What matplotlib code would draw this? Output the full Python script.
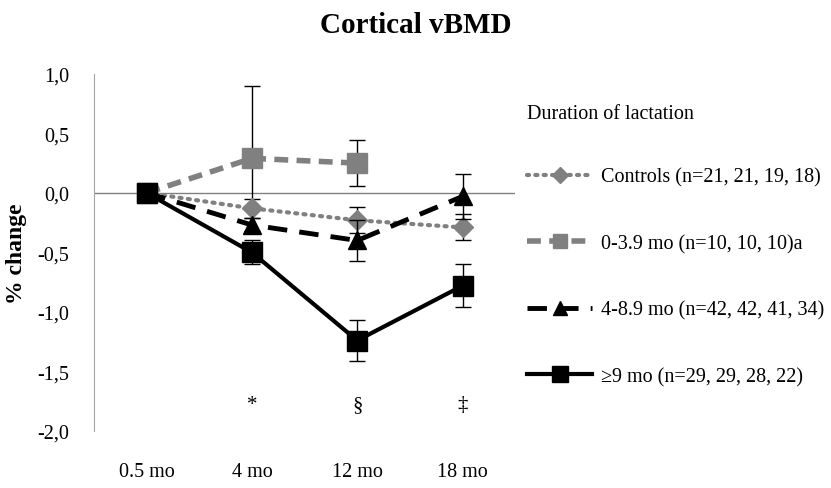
import numpy as np
import matplotlib.pyplot as plt
from matplotlib.lines import Line2D

plt.rcParams['font.family'] = ['Liberation Serif', 'DejaVu Serif']

timepoints = ['0.5 mo', '4 mo', '12 mo', '18 mo']

controls = [0.0, -0.13, -0.23, -0.29]
controls_err = [0.0, 0.08, 0.11, 0.11]
short = [0.0, 0.29, 0.25]
short_err = [0.0, 0.61, 0.19]
mid = [0.0, -0.27, -0.40, -0.03]
mid_err = [0.0, 0.06, 0.17, 0.19]
long_ = [0.0, -0.50, -1.24, -0.78]
long_err = [0.0, 0.10, 0.17, 0.18]

labels = ['Controls (n=21, 21, 19, 18)', '0-3.9 mo (n=10, 10, 10)a',
          '4-8.9 mo (n=42, 42, 41, 34)', '\u22659 mo (n=29, 29, 28, 22)']
signif = ['', '*', '\u00a7', '\u2021']

gray = '#808080'

fig = plt.figure(figsize=(8.31, 4.89), dpi=100)
ax = fig.add_axes([0.113, 0.1166, 0.507, 0.7304])

x = np.arange(len(timepoints))

ax.axhline(0, color=gray, lw=1, zorder=1)

ax.errorbar(x[:len(short)], short, yerr=short_err, color=gray, lw=4, ls=(0, (2.5, 1.5)),
            marker='s', ms=14, ecolor='black', elinewidth=1, capsize=6, capthick=1, zorder=3)
ax.errorbar(x, controls, yerr=controls_err, color=gray, lw=3, ls=(0, (0.5, 1.5)),
            dash_capstyle='round', marker='D', ms=10, ecolor='black', elinewidth=1,
            capsize=6, capthick=1, zorder=4)
ax.errorbar(x, mid, yerr=mid_err, color='black', lw=3.5, ls=(0, (4, 2.5)),
            marker='^', ms=13, ecolor='black', elinewidth=1, capsize=6, capthick=1, zorder=5)
ax.errorbar(x, long_, yerr=long_err, color='black', lw=3, ls='-',
            marker='s', ms=15, ecolor='black', elinewidth=1, capsize=6, capthick=1, zorder=6)

for xi, s in zip(x, signif):
    ax.text(xi, -1.78, s, ha='center', va='center', fontsize=15)

ax.set_xlim(-0.5, 3.5)
ax.set_ylim(-2.0, 1.0)
ax.set_yticks(np.arange(-2.0, 1.01, 0.5))
ax.set_yticklabels([f'{v:.1f}'.replace('.', ',') for v in np.arange(-2.0, 1.01, 0.5)])
ax.set_xticks(x)
ax.set_xticklabels(timepoints)
ax.tick_params(axis='y', length=0, pad=18, labelsize=14.5)
ax.tick_params(axis='x', length=0, pad=22, labelsize=14.5)
for side in ['top', 'right', 'bottom']:
    ax.spines[side].set_visible(False)
ax.spines['left'].set_color('#a6a6a6')
ax.set_ylabel('% change', fontsize=17, fontweight='bold', labelpad=7)

fig.suptitle('Cortical vBMD', fontsize=21, fontweight='bold', y=0.975)

handles = [
    Line2D([], [], color=gray, lw=3, ls=(0, (0.5, 1.5)), dash_capstyle='round', marker='D', ms=8),
    Line2D([], [], color=gray, lw=4, ls=(0, (2.5, 1.5)), marker='s', ms=10),
    Line2D([], [], color='black', lw=3.5, ls=(0, (4, 2.5)), marker='^', ms=10),
    Line2D([], [], color='black', lw=3, ls='-', marker='s', ms=11),
]
fig.text(0.634, 0.765, 'Duration of lactation', fontsize=14.5, va='center')
fig.legend(handles, labels, loc='upper left', bbox_to_anchor=(0.625, 0.672),
           frameon=False, fontsize=14.5, handlelength=3.2, handletextpad=0.45,
           labelspacing=2.35, borderaxespad=0)

fig.savefig('out.png', dpi=100)
